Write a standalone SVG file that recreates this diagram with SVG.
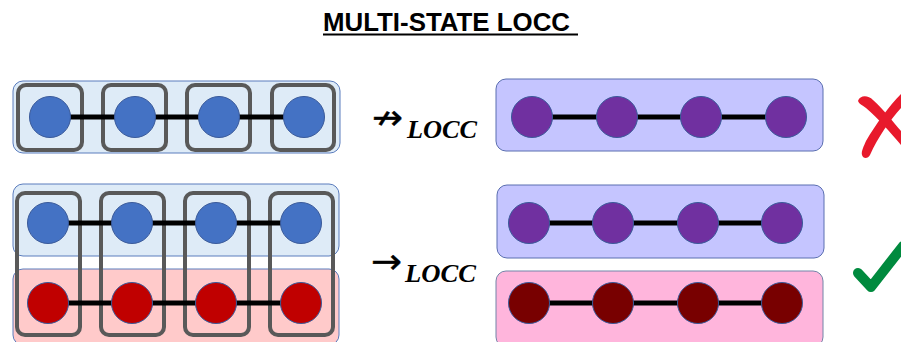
<svg xmlns="http://www.w3.org/2000/svg" width="901" height="342" viewBox="0 0 901 342">
  <defs>
    <style>
      .title { font-family: "Liberation Sans", Arial, sans-serif; font-weight: bold; font-size: 26px; fill: #000; }
      .sub { font-family: "Liberation Serif", "Times New Roman", serif; font-weight: bold; font-style: italic; font-size: 26px; fill: #000; }
      .arrow { font-family: "DejaVu Sans", sans-serif; font-size: 34px; fill: #000; stroke: #000; stroke-width: 0.4; }
      .box { stroke-width: 1; }
      .blue-box { fill: #deebf7; stroke: #5a7cbd; }
      .red-box { fill: #ffcaca; stroke: #5a7cbd; }
      .purple-box { fill: #c5c5ff; stroke: #5a6eb0; }
      .pink-box { fill: #ffb5dc; stroke: #7384a8; }
      .frame { fill: none; stroke: #595959; stroke-width: 4; }
      .bond { stroke: #000; stroke-width: 5; }
      .q { stroke: #3a5a9a; stroke-width: 1; }
      .q-blue { fill: #4472c4; }
      .q-red { fill: #c00000; }
      .q-purple { fill: #7030a0; }
      .q-dark { fill: #780000; }
    </style>
  </defs>

  <rect width="901" height="342" fill="#ffffff"/>

  <!-- heading -->
  <g id="title">
    <text class="title" x="323" y="31" textLength="247" lengthAdjust="spacingAndGlyphs">MULTI-STATE LOCC</text>
    <line x1="323" y1="34.5" x2="578" y2="34.5" stroke="#000" stroke-width="2"/>
  </g>

  <!-- state containers -->
  <g id="state-boxes">
    <rect id="box-a" class="box blue-box" x="13" y="81" width="327" height="72" rx="10"/>
    <rect id="box-b" class="box blue-box" x="13" y="184" width="326" height="72" rx="10"/>
    <rect id="box-c" class="box red-box" x="13" y="269" width="326" height="76" rx="10"/>
    <rect id="box-d" class="box purple-box" x="496" y="79" width="327" height="72" rx="10"/>
    <rect id="box-e" class="box purple-box" x="497" y="185" width="327" height="73" rx="10"/>
    <rect id="box-f" class="box pink-box" x="496" y="271" width="327" height="76" rx="10"/>
  </g>

  <!-- local parties -->
  <g id="parties">
    <rect id="party-a1" class="frame" x="18" y="85" width="64" height="65" rx="8"/>
    <rect id="party-a2" class="frame" x="103" y="85" width="63" height="65" rx="8"/>
    <rect id="party-a3" class="frame" x="187" y="85" width="63" height="65" rx="8"/>
    <rect id="party-a4" class="frame" x="272" y="85" width="62" height="65" rx="8"/>
    <rect id="party-b1" class="frame" x="17" y="193" width="63" height="142" rx="8"/>
    <rect id="party-b2" class="frame" x="101" y="193" width="63" height="142" rx="8"/>
    <rect id="party-b3" class="frame" x="185" y="193" width="64" height="142" rx="8"/>
    <rect id="party-b4" class="frame" x="270" y="193" width="63" height="142" rx="8"/>
  </g>

  <!-- bonds between qubits -->
  <g id="connectors">
    <line class="bond" x1="50" y1="117" x2="304" y2="117"/>
    <line class="bond" x1="48" y1="223" x2="301" y2="223"/>
    <line class="bond" x1="48" y1="303" x2="301" y2="303"/>
    <line class="bond" x1="532" y1="117" x2="786" y2="117"/>
    <line class="bond" x1="529" y1="223" x2="782" y2="223"/>
    <line class="bond" x1="529" y1="303" x2="782" y2="303"/>
  </g>

  <!-- qubits -->
  <g id="node-a1"><circle class="q q-blue" cx="50" cy="117" r="20.5"/></g>
  <g id="node-a2"><circle class="q q-blue" cx="135" cy="117" r="20.5"/></g>
  <g id="node-a3"><circle class="q q-blue" cx="219" cy="117" r="20.5"/></g>
  <g id="node-a4"><circle class="q q-blue" cx="304" cy="117" r="20.5"/></g>

  <g id="node-b1"><circle class="q q-blue" cx="48" cy="223" r="20.5"/></g>
  <g id="node-b2"><circle class="q q-blue" cx="132" cy="223" r="20.5"/></g>
  <g id="node-b3"><circle class="q q-blue" cx="216" cy="223" r="20.5"/></g>
  <g id="node-b4"><circle class="q q-blue" cx="301" cy="223" r="20.5"/></g>

  <g id="node-c1"><circle class="q q-red" cx="48" cy="303" r="20.5"/></g>
  <g id="node-c2"><circle class="q q-red" cx="132" cy="303" r="20.5"/></g>
  <g id="node-c3"><circle class="q q-red" cx="216" cy="303" r="20.5"/></g>
  <g id="node-c4"><circle class="q q-red" cx="301" cy="303" r="20.5"/></g>

  <g id="node-d1"><circle class="q q-purple" cx="532" cy="117" r="20.5"/></g>
  <g id="node-d2"><circle class="q q-purple" cx="617" cy="117" r="20.5"/></g>
  <g id="node-d3"><circle class="q q-purple" cx="701" cy="117" r="20.5"/></g>
  <g id="node-d4"><circle class="q q-purple" cx="786" cy="117" r="20.5"/></g>

  <g id="node-e1"><circle class="q q-purple" cx="529" cy="223" r="20.5"/></g>
  <g id="node-e2"><circle class="q q-purple" cx="613" cy="223" r="20.5"/></g>
  <g id="node-e3"><circle class="q q-purple" cx="698" cy="223" r="20.5"/></g>
  <g id="node-e4"><circle class="q q-purple" cx="782" cy="223" r="20.5"/></g>

  <g id="node-f1"><circle class="q q-dark" cx="529" cy="303" r="20.5"/></g>
  <g id="node-f2"><circle class="q q-dark" cx="613" cy="303" r="20.5"/></g>
  <g id="node-f3"><circle class="q q-dark" cx="698" cy="303" r="20.5"/></g>
  <g id="node-f4"><circle class="q q-dark" cx="782" cy="303" r="20.5"/></g>

  <!-- transformation labels -->
  <g id="label-not">
    <text class="arrow" x="372" y="129" textLength="31" lengthAdjust="spacingAndGlyphs">↛</text>
    <text class="sub" x="407" y="138" textLength="70" lengthAdjust="spacingAndGlyphs">LOCC</text>
  </g>
  <g id="label-yes">
    <text class="arrow" x="371" y="273" textLength="31" lengthAdjust="spacingAndGlyphs">→</text>
    <text class="sub" x="405" y="282" textLength="71" lengthAdjust="spacingAndGlyphs">LOCC</text>
  </g>

  <!-- verdict marks -->
  <g id="mark-cross" fill="#e8192c">
    <path d="M858,101 C860,95 868,95 873,100 C884,110 893,122 901,131 L901,145 C890,132 878,118 866,108 C862,105 859,104 858,101 Z"/>
    <path d="M901,94 L901,108 C890,120 878,137 870,155 C868,159 863,159 862,155 C861,151 864,146 866,141 C876,124 889,106 901,94 Z"/>
  </g>
  <g id="mark-check" fill="none" stroke="#008a3e" stroke-width="10" stroke-linecap="round" stroke-linejoin="round">
    <path d="M858,273 L871,287 L903,246"/>
  </g>
</svg>
